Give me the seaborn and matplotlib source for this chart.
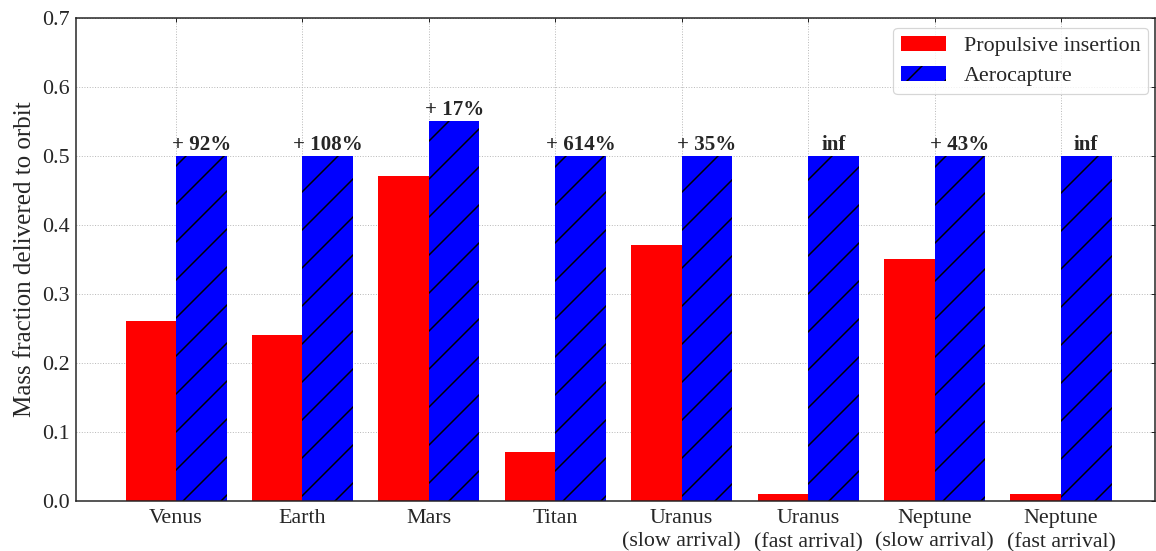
import pandas as pd
import matplotlib
matplotlib.use("Agg")
import matplotlib.pyplot as plt
import matplotlib.patches as mpatches
import seaborn as sns

# DATA
bodies = ["Venus", "Earth", "Mars", "Titan", "Uranus\n(slow arrival)",
          "Uranus\n(fast arrival)", "Neptune\n(slow arrival)", "Neptune\n(fast arrival)"]
propulsive = [0.26, 0.24, 0.47, 0.07, 0.37, 0.01, 0.35, 0.01]
aerocapture = [0.50, 0.50, 0.55, 0.50, 0.50, 0.50, 0.50, 0.50]
gains = ["+ 92%", "+ 108%", "+ 17%", "+ 614%", "+ 35%", "inf", "+ 43%", "inf"]
methods = ["Propulsive insertion", "Aerocapture"]

df = pd.DataFrame({
    "Body": bodies * 2,
    "Fraction": propulsive + aerocapture,
    "Method": [methods[0]] * len(bodies) + [methods[1]] * len(bodies),
})

# high dpi so the hatch spacing looks like the original
DPI = 228
def pt(px):
    return px * 72 / DPI

sns.set_style("white")
plt.rcParams["font.family"] = ["Liberation Serif", "DejaVu Serif"]
plt.rcParams["hatch.linewidth"] = pt(1.5)
plt.rcParams["hatch.color"] = "black"

fig = plt.figure(figsize=(1156 / DPI, 551 / DPI), dpi=DPI)
ax = fig.add_axes([75.7 / 1156, 1 - 500.7 / 551, (1155 - 75.7) / 1156, (500.7 - 17.7) / 551])

sns.barplot(data=df, x="Body", y="Fraction", hue="Method", palette=["red", "blue"],
            saturation=1, errorbar=None, legend=False, ax=ax)

for bar in ax.containers[1]:
    bar.set_hatch("//")
for cont in ax.containers:
    for bar in cont:
        bar.set_edgecolor("black")
        bar.set_linewidth(0)

# percentage gain above each aerocapture bar
for i, (val, txt) in enumerate(zip(aerocapture, gains)):
    ax.annotate(txt, (i + 0.2, val), xytext=(0, pt(1)), textcoords="offset points",
                ha="center", va="bottom", fontsize=pt(21), fontweight="bold")

ax.set_xlim(-0.794, 7.744)
ax.set_ylim(0, 0.7)
ax.set_yticks([0, 0.1, 0.2, 0.3, 0.4, 0.5, 0.6, 0.7])
ax.set_xlabel("")
ax.set_ylabel("Mass fraction delivered to orbit", fontsize=pt(25), labelpad=pt(6))
ax.tick_params(direction="in", top=True, right=True, length=pt(4), width=pt(1),
               labelsize=pt(22), pad=pt(6), color="#222222")
ax.tick_params(axis="x", pad=pt(8))
for lab in ax.get_xticklabels():
    lab.set_linespacing(1.35)
ax.grid(True, linestyle=":", linewidth=pt(1), color="#bbbbbb")
ax.set_axisbelow(True)
for s in ax.spines.values():
    s.set_linewidth(pt(1.5))
    s.set_color("#222222")

handles = [mpatches.Patch(facecolor="red", linewidth=0),
           mpatches.Patch(facecolor="blue", edgecolor="black", linewidth=0, hatch="//")]
leg = ax.legend(handles, methods, loc="upper right", fontsize=pt(22), frameon=True,
                fancybox=True, edgecolor="#cccccc", borderpad=0.35, handlelength=2.05,
                handleheight=0.7, handletextpad=0.8, labelspacing=0.45,
                borderaxespad=0, bbox_to_anchor=(0.9935, 0.9787))
leg.get_frame().set_linewidth(pt(1.2))

fig.savefig("out.png", dpi=DPI)
